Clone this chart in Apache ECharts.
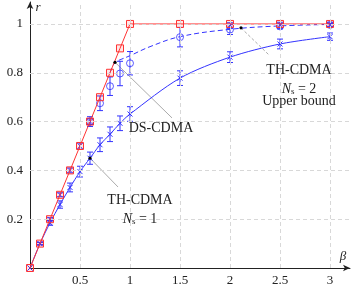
<!DOCTYPE html>
<html>
<head>
<meta charset="utf-8">
<script src="https://cdn.jsdelivr.net/npm/echarts@6/dist/echarts.min.js"></script>
<style>
html,body{margin:0;padding:0;background:#fff;}
#c{width:352px;height:290px;}
</style>
</head>
<body>
<div id="c"></div>
<script>
// ---- data ----
const xTicks = [0.5, 1, 1.5, 2, 2.5, 3];
const yTicks = [0.2, 0.4, 0.6, 0.8, 1];

const boundX = [0, 0.1, 0.2, 0.3, 0.4, 0.5, 0.6, 0.7, 0.8, 0.9, 1, 1.5, 2, 2.5, 3];
const boundY = [0, 0.1, 0.2, 0.3, 0.4, 0.5, 0.6, 0.7, 0.8, 0.9, 1, 1, 1, 1, 1];

const th1X = [0, 0.1, 0.2, 0.3, 0.4, 0.5, 0.6, 0.7, 0.8, 0.9, 1, 1.5, 2, 2.5, 3];
const th1Y = [0, 0.1, 0.185, 0.26, 0.33, 0.395, 0.45, 0.505, 0.548, 0.593, 0.631, 0.778, 0.864, 0.918, 0.948];
const th1E = [0, 0.005, 0.01, 0.015, 0.018, 0.022, 0.025, 0.028, 0.03, 0.03, 0.03, 0.03, 0.022, 0.02, 0.015];

const th2X = [0, 0.1, 0.2, 0.3, 0.4, 0.5, 0.6, 2, 2.5, 3];
const th2Y = [0, 0.1, 0.2, 0.3, 0.4, 0.5, 0.6, 0.993, 0.995, 0.997];
const th2E = [0, 0.004, 0.006, 0.008, 0.01, 0.012, 0.012, 0.012, 0.012, 0.01];

const dsX = [0.6, 0.7, 0.8, 0.9, 1, 1.5, 2, 2.5, 3];
const dsY = [0.6, 0.675, 0.745, 0.797, 0.839, 0.946, 0.977, 0.99, 0.996];
const dsE = [0.02, 0.03, 0.038, 0.05, 0.048, 0.04, 0.02, 0.01, 0.006];

const dsCurveX = [0.8, 0.85, 0.9, 1, 1.2, 1.5, 2, 2.5, 3];
const dsCurveY = [0.8, 0.843, 0.853, 0.87, 0.907, 0.948, 0.978, 0.992, 0.998];

// ---- style ----
const RED = '#ff3333';
const BLUE = '#3333ff';
const FONT = "'Liberation Serif', 'DejaVu Serif', serif";

function pairs(xs, ys) { return xs.map((x, i) => [x, ys[i]]); }

function errSeries(xs, ys, es, color, z) {
  return {
    type: 'custom', silent: true, z: z,
    data: xs.map((x, i) => [x, ys[i], es[i]]),
    encode: { x: 0, y: 1 },
    renderItem: function (params, api) {
      const x = api.value(0), y = api.value(1), e = api.value(2);
      if (!e) return null;
      const p1 = api.coord([x, y - e]), p2 = api.coord([x, y + e]);
      const hw = 3;
      const st = { stroke: color, lineWidth: 1 };
      return {
        type: 'group', children: [
          { type: 'line', shape: { x1: p1[0], y1: p1[1], x2: p2[0], y2: p2[1] }, style: st },
          { type: 'line', shape: { x1: p1[0] - hw, y1: p1[1], x2: p1[0] + hw, y2: p1[1] }, style: st },
          { type: 'line', shape: { x1: p2[0] - hw, y1: p2[1], x2: p2[0] + hw, y2: p2[1] }, style: st }
        ]
      };
    }
  };
}

const crossPath = 'path://M0,0L10,10M10,0L0,10';

const chart = echarts.init(document.getElementById('c'), null, { renderer: 'canvas' });

const gridLines = [];
xTicks.forEach(v => gridLines.push({ xAxis: v }));
yTicks.forEach(v => gridLines.push({ yAxis: v }));

chart.setOption({
  animation: false,
  grid: { left: 30, right: 2, top: 2, bottom: 22, containLabel: false },
  xAxis: {
    type: 'value', min: 0, max: 3.2, interval: 0.5,
    axisLine: { lineStyle: { color: '#222', width: 1 }, symbol: ['none', 'arrow'], symbolSize: [5, 7] },
    axisTick: { show: false },
    splitLine: { show: false },
    axisLabel: {
      showMinLabel: false, showMaxLabel: false, margin: 6,
      fontFamily: FONT, fontSize: 13, color: '#222',
      formatter: v => (xTicks.indexOf(v) >= 0 ? String(v) : '')
    }
  },
  yAxis: {
    type: 'value', min: 0, max: 1.09, interval: 0.2,
    axisLine: { show: true, lineStyle: { color: '#222', width: 1 }, symbol: ['none', 'arrow'], symbolSize: [5, 7] },
    axisTick: { show: false },
    splitLine: { show: false },
    axisLabel: {
      showMinLabel: false, showMaxLabel: false, margin: 7,
      fontFamily: FONT, fontSize: 13, color: '#222',
      formatter: v => { const r = Math.round(v * 10) / 10; return yTicks.indexOf(r) >= 0 ? String(r) : ''; }
    }
  },
  series: [
    {
      type: 'line', data: [], silent: true, z: 0,
      markLine: {
        silent: true, symbol: 'none', label: { show: false },
        lineStyle: { color: '#d8d8d8', type: [4, 3], width: 1 },
        data: gridLines
      }
    },
    {
      name: 'DS-CDMA theory', type: 'line', data: pairs(dsCurveX, dsCurveY),
      smooth: 0.4, showSymbol: false, symbol: 'none',
      lineStyle: { color: BLUE, width: 1, type: [5, 3] }, z: 2
    },
    {
      name: 'TH-CDMA Ns=1', type: 'line', data: pairs(th1X, th1Y), smooth: 0.3,
      symbol: crossPath, symbolSize: 5,
      lineStyle: { color: BLUE, width: 1 },
      itemStyle: { color: BLUE, borderColor: BLUE, borderWidth: 1 }, z: 3
    },
    errSeries(th1X, th1Y, th1E, BLUE, 3),
    {
      name: 'TH-CDMA Ns=2', type: 'scatter', data: pairs(th2X, th2Y),
      symbol: crossPath, symbolSize: 5,
      itemStyle: { color: BLUE, borderColor: BLUE, borderWidth: 1 }, z: 3
    },
    errSeries(th2X, th2Y, th2E, BLUE, 3),
    {
      name: 'DS-CDMA', type: 'scatter', data: pairs(dsX, dsY),
      symbol: 'circle', symbolSize: 7,
      itemStyle: { color: 'rgba(0,0,0,0)', borderColor: BLUE, borderWidth: 1 }, z: 3
    },
    errSeries(dsX, dsY, dsE, BLUE, 3),
    {
      name: 'Upper bound', type: 'line', data: pairs(boundX, boundY),
      symbol: 'rect', symbolSize: 7,
      lineStyle: { color: RED, width: 1 },
      itemStyle: { color: 'rgba(255,60,60,0.12)', borderColor: RED, borderWidth: 1 }, z: 4
    }
  ]
});

// ---- annotations (data coordinates) ----
const annDots = [[0.85, 0.843], [2.11, 0.984], [0.6, 0.45]];
const annLines = [
  { from: [0.85, 0.843], to: [1.42, 0.615], dash: null },
  { from: [2.11, 0.984], to: [2.39, 0.873], dash: [3, 2] },
  { from: [0.6, 0.45], to: [0.88, 0.332], dash: null }
];
const annTexts = [
  { at: [1.31, 0.574], text: 'DS-CDMA' },
  { at: [2.69, 0.811], text: 'TH-CDMA' },
  { at: [2.69, 0.742], text: '{n|N}{s|s}{t| = 2}' },
  { at: [2.69, 0.684], text: 'Upper bound' },
  { at: [1.10, 0.279], text: 'TH-CDMA' },
  { at: [1.10, 0.209], text: '{n|N}{s|s}{t| = 1}' }
];
const axisNames = [
  { at: [0.08, 1.066], text: 'r' },
  { at: [3.13, 0.045], text: 'β' }
];

const px = p => chart.convertToPixel({ gridIndex: 0 }, p);
const g = [];
annLines.forEach(l => {
  const a = px(l.from), b = px(l.to);
  g.push({ type: 'line', silent: true, z: 1, shape: { x1: a[0], y1: a[1], x2: b[0], y2: b[1] },
    style: { stroke: '#aaaaaa', lineWidth: 1, lineDash: l.dash } });
});
annDots.forEach(d => {
  const a = px(d);
  g.push({ type: 'circle', silent: true, z: 10, shape: { cx: a[0], cy: a[1], r: 1.6 }, style: { fill: '#000' } });
});
const rich = {
  n: { fontFamily: FONT, fontSize: 14, fontStyle: 'italic', color: '#222', lineHeight: 18, verticalAlign: 'bottom' },
  s: { fontFamily: FONT, fontSize: 9, color: '#222', lineHeight: 9, verticalAlign: 'bottom' },
  t: { fontFamily: FONT, fontSize: 14, color: '#222', lineHeight: 18, verticalAlign: 'bottom' }
};
annTexts.forEach(t => {
  const a = px(t.at);
  g.push({ type: 'text', silent: true, z: 10, x: a[0], y: a[1],
    style: { text: t.text, fontFamily: FONT, fontSize: 14, fill: '#222', align: 'center', verticalAlign: 'middle', rich: rich } });
});
axisNames.forEach(t => {
  const a = px(t.at);
  g.push({ type: 'text', silent: true, z: 10, x: a[0], y: a[1],
    style: { text: t.text, fontFamily: FONT, fontSize: 13, fontStyle: 'italic', fill: '#222', align: 'center', verticalAlign: 'middle' } });
});
chart.setOption({ graphic: g });
</script>
</body>
</html>
